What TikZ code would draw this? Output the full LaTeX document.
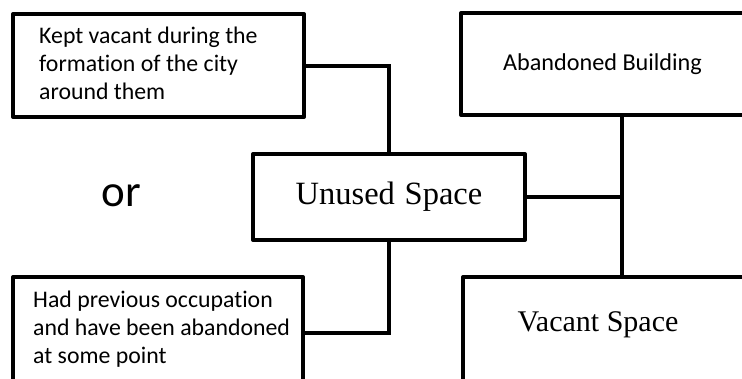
\documentclass[tikz,border=0pt]{standalone}
\usepackage{fontspec}
\setmainfont{Liberation Serif}
\newfontfamily\calib[Ligatures=NoCommon]{Carlito}
\begin{document}
\begin{tikzpicture}[x=1pt,y=-1pt,
  box/.style={draw=black,line width=4pt,line join=round,rectangle,inner sep=0pt},
  link/.style={draw=black,line width=4pt},
  note/.style={font=\calib\fontsize{23.8}{28}\selectfont,align=left,anchor=north west,inner sep=0pt},
  serifbox/.style={box,font=\fontsize{32.5}{36}\selectfont}]
\useasboundingbox (0,0) rectangle (742,378);
\clip (0,0) rectangle (742,378);

% boxes
\node[box,minimum width=291pt,minimum height=103pt] (kept) at (158.5,65.5) {};
\node[note] (kepttext) at (39,27) {Kept vacant during the\\formation of the city\\around them};

\node[serifbox,minimum width=272pt,minimum height=86pt] (unused) at (389,197) {Unused\hspace{0.3em}Space};

\node[box,minimum width=290pt,minimum height=112pt] (had) at (158,333) {};
\node[note] (hadtext) at (33,291) {Had previous occupation\\and have been abandoned\\at some point};

\node[box,font=\calib\fontsize{24.2}{28}\selectfont,minimum width=283pt,minimum height=102pt] (abandoned) at (602.5,64) {Abandoned Building};

\node[box,minimum width=283pt,minimum height=126pt] (vacant) at (604.5,340) {};
\node[font=\fontsize{30}{36}\selectfont,inner sep=0pt] (vacanttext) at (598,325) {Vacant Space};

\node[font=\calib\fontsize{45}{50}\selectfont,inner sep=0pt] (or) at (121,196) {or};

% connectors
\coordinate (j) at (622,197);
\draw[link] (kept.east) -| (unused.north);
\draw[link] (unused.south) |- (had.east);
\draw[link] (unused.east) -- (j);
\draw[link] (abandoned.south -| j) -- (vacant.north -| j);
\end{tikzpicture}
\end{document}
